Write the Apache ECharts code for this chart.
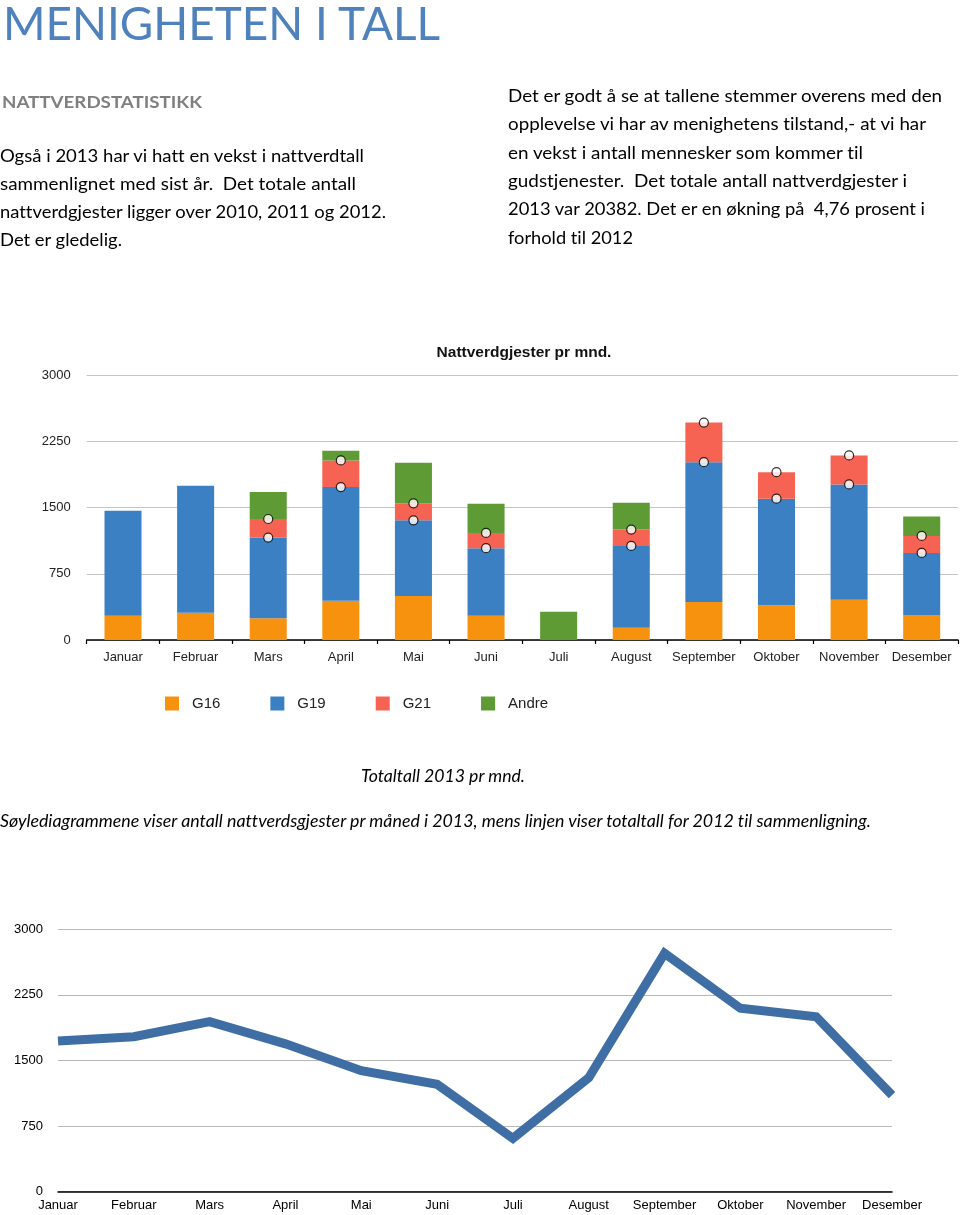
<!DOCTYPE html>
<html>
<head>
<meta charset="utf-8">
<script src="https://cdn.jsdelivr.net/npm/echarts@6/dist/echarts.min.js"></script>
<style>
  html, body { margin:0; padding:0; background:#fff; }
  #wrap { position:relative; width:960px; height:1215px; overflow:hidden; }
  #chart { position:absolute; left:0; top:0; width:960px; height:1215px; }
  .t { position:absolute; white-space:pre; transform-origin:left center; font-family:Lato, "Open Sans", sans-serif; color:#000; line-height:1; font-variant-ligatures:none; font-feature-settings:"liga" 0, "clig" 0; }
</style>
</head>
<body>
<div id="wrap">
  <div id="chart"></div>
</div>
<script>
// ---- Data ----
const months = ['Januar','Februar','Mars','April','Mai','Juni','Juli','August','September','Oktober','November','Desember'];
const seriesNames = ['G16','G19','G21','Andre'];
const g16   = [275, 309, 245, 444, 497, 275,   0, 139, 429, 392, 455, 282];
const g19   = [1189,1438, 915,1287, 858, 764,   0, 926,1584,1208,1306, 704];
const g21   = [0,     0, 210, 302, 192, 173,   0, 185, 448, 300, 328, 192];
const andre = [0,     0, 305, 109, 459, 331, 320, 305,   0,   0,   0, 219];
const total2012 = [1723,1772,1944,1690,1384,1228,610,1303,2725,2097,2001,1105];
const yTicks = {min:0, max:3000, interval:750};

const pageTitle = 'MENIGHETEN I TALL';
const heading = 'NATTVERDSTATISTIKK';
const leftPara = ['Også i 2013 har vi hatt en vekst i nattverdtall','sammenlignet med sist år.  Det totale antall','nattverdgjester ligger over 2010, 2011 og 2012.','Det er gledelig.'];
const rightPara = ['Det er godt å se at tallene stemmer overens med den','opplevelse vi har av menighetens tilstand,- at vi har','en vekst i antall mennesker som kommer til','gudstjenester.  Det totale antall nattverdgjester i','2013 var 20382. Det er en økning på  4,76 prosent i','forhold til 2012'];
const barTitle = 'Nattverdgjester pr mnd.';
const caption1 = 'Totaltall 2013 pr mnd.';
const caption2 = 'Søylediagrammene viser antall nattverdsgjester pr måned i 2013, mens linjen viser totaltall for 2012 til sammenligning.';

// ---- Text layout ----
const wrap = document.getElementById('wrap');
function addText(str, x0, x1, cy, size, style) {
  const d = document.createElement('div');
  d.className = 't';
  d.textContent = str;
  d.style.fontSize = size + 'px';
  Object.assign(d.style, style || {});
  d.style.left = x0 + 'px';
  d.style.top = (cy - size/2) + 'px';
  wrap.appendChild(d);
  const w = d.getBoundingClientRect().width;
  if (w > 0) d.style.transform = 'scaleX(' + ((x1 - x0) / w) + ')';
  return d;
}
addText(pageTitle, 3, 440, 23, 46, {color:'#4F81BD', fontWeight:'normal'});
addText(heading, 2, 202, 101, 17, {color:'#7F7F7F', fontWeight:'bold'});
const leftEnds = [364, 356, 386, 122];
leftPara.forEach((s,i)=> addText(s, 0, leftEnds[i], 155 + i*28, 18));
const rightEnds = [942, 926, 863, 907, 925, 633];
rightPara.forEach((s,i)=> addText(s, 508, rightEnds[i], 95 + i*28.3, 18));
addText(caption1, 361, 525, 775, 17, {fontStyle:'italic'});
addText(caption2, 0, 871, 820, 17, {fontStyle:'italic'});

// ---- Chart ----
const markers = [];
months.forEach((m,i)=>{
  if (g21[i] > 0) {
    markers.push([i, g16[i] + g19[i]]);
    markers.push([i, g16[i] + g19[i] + g21[i]]);
  }
});
const colors = ['#F7920F','#3C80C4','#F76352','#5F9B35'];
const dataSets = [g16, g19, g21, andre];

const chart = echarts.init(document.getElementById('chart'), null, {renderer:'canvas'});
const font = '"Liberation Sans", Arial, sans-serif';
const plain = v => String(v);
chart.setOption({
  animation: false,
  title: {
    text: barTitle, left: 519, top: 340, textAlign: 'center',
    textStyle: {fontFamily: font, fontWeight: 'bold', fontSize: 15.5, color: '#111'}
  },
  legend: {
    data: seriesNames, left: 165, top: 696, padding: 0, itemWidth: 14, itemHeight: 14, itemGap: 50,
    icon: 'rect',
    textStyle: {fontFamily: font, fontSize: 15, color: '#222', padding: [0,0,0,8]}
  },
  grid: [
    {left: 86.7, right: 2, top: 375, height: 265},
    {left: 58, right: 68, top: 929.3, height: 262.4}
  ],
  xAxis: [
    {type:'category', gridIndex:0, data: months, boundaryGap:true,
     axisLine:{lineStyle:{color:'#000', width:1.5}},
     axisTick:{show:true, length:4, interval:0, lineStyle:{color:'#000', width:1.2}},
     axisLabel:{fontFamily:font, fontSize:13, color:'#222', margin:11, interval:0}},
    {type:'category', gridIndex:1, data: months, boundaryGap:false,
     axisLine:{lineStyle:{color:'#000', width:1.5}},
     axisTick:{show:false},
     axisLabel:{fontFamily:font, fontSize:13, color:'#000', margin:7, interval:0}}
  ],
  yAxis: [
    {type:'value', gridIndex:0, min:yTicks.min, max:yTicks.max, interval:yTicks.interval,
     axisLine:{show:false}, axisTick:{show:false},
     axisLabel:{fontFamily:font, fontSize:13, color:'#222', margin:16, formatter: plain},
     splitLine:{lineStyle:{color:'#C4C4C4', width:1.2}}},
    {type:'value', gridIndex:1, min:yTicks.min, max:yTicks.max, interval:yTicks.interval,
     axisLine:{show:false}, axisTick:{show:false},
     axisLabel:{fontFamily:font, fontSize:13, color:'#000', margin:15, formatter: plain},
     splitLine:{lineStyle:{color:'#B8B8B8', width:1.2}}}
  ],
  series: seriesNames.map((n,k)=>({
    name: n, type:'bar', stack:'total', xAxisIndex:0, yAxisIndex:0,
    barWidth:'51%', data: dataSets[k], itemStyle:{color: colors[k]}
  })).concat([
    {type:'scatter', xAxisIndex:0, yAxisIndex:0, data: markers, symbol:'circle', symbolSize:9,
     itemStyle:{color:'#fff', borderColor:'#000', borderWidth:1.2}, z:5},
    {type:'line', xAxisIndex:1, yAxisIndex:1, data: total2012, symbol:'none',
     lineStyle:{color:'#3F6EA5', width:9, join:'miter'}, z:3}
  ])
});
</script>
</body>
</html>
